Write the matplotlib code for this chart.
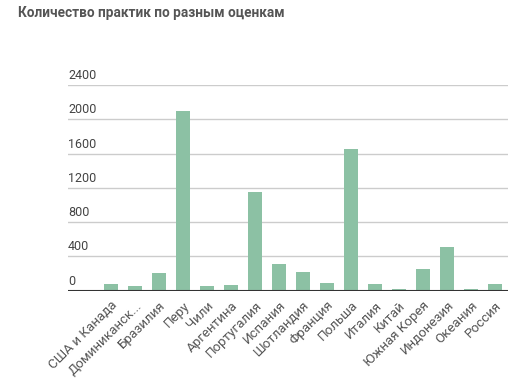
import matplotlib.pyplot as plt

# данные
countries = ['США и Канада', 'Доминиканск...', 'Бразилия', 'Перу', 'Чили',
             'Аргентина', 'Португалия', 'Испания', 'Шотландия', 'Франция',
             'Польша', 'Италия', 'Китай', 'Южная Корея', 'Индонезия',
             'Океания', 'Россия']
practices = [72, 50, 205, 2100, 50, 62, 1150, 310, 215, 86,
             1655, 74, 22, 250, 505, 22, 74]
y_ticks = [0, 400, 800, 1200, 1600, 2000, 2400]

plt.rcParams['font.family'] = ['Roboto', 'DejaVu Sans']

fig = plt.figure(figsize=(5.27, 3.79), dpi=100)
ax = fig.add_axes([68 / 527, 1 - 290.5 / 379, 440 / 527, 205.5 / 379])

x = list(range(len(countries)))
ax.bar(x, practices, width=0.58, color='#8cc1a4', zorder=2)

for t in y_ticks:
    if t > 0:
        ax.axhline(t, color='#cccccc', linewidth=1, zorder=1)
    ax.text(0.0, t + 35, str(t), transform=ax.get_yaxis_transform(),
            ha='left', va='bottom', fontsize=9, color='#444444')
ax.axhline(0, color='#333333', linewidth=1.5, zorder=3)

ax.set_xlim(-1.79, 16.54)
ax.set_ylim(0, 2400)
ax.set_yticks([])
ax.set_xticks(x)
ax.set_xticklabels(countries, rotation=45, ha='right', rotation_mode='anchor',
                   fontsize=9.6, color='#555555')
ax.tick_params(axis='x', length=0, pad=6)
for s in ax.spines.values():
    s.set_visible(False)

fig.text(18 / 527, 1 - 13 / 379, 'Количество практик по разным оценкам',
         fontsize=9.8, fontweight='bold', color='#555555', va='center', ha='left')

fig.savefig('out.png', dpi=100)
